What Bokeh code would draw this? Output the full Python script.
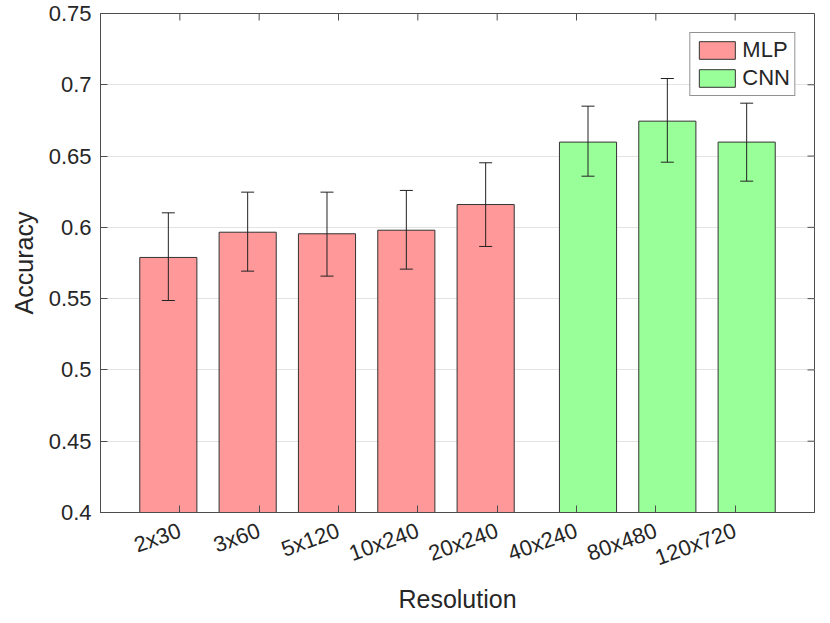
import math
from bokeh.plotting import figure
from bokeh.models import (ColumnDataSource, Whisker, TeeHead, FixedTicker, Range1d,
                          Legend, LegendItem)
from bokeh.embed import file_html
from bokeh.resources import INLINE

# ---------------- data ----------------
labels = ["2x30", "3x60", "5x120", "10x240", "20x240", "40x240", "80x480", "120x720"]

mlp_acc = [0.5789, 0.5966, 0.5955, 0.5980, 0.6160]
mlp_upper = [0.6102, 0.6247, 0.6247, 0.6259, 0.6453]
mlp_lower = [0.5487, 0.5693, 0.5658, 0.5707, 0.5866]

cnn_acc = [0.6598, 0.6745, 0.6598]
cnn_upper = [0.6850, 0.7044, 0.6871]
cnn_lower = [0.6359, 0.6457, 0.6324]

y_ticks = [0.4, 0.45, 0.5, 0.55, 0.6, 0.65, 0.7, 0.75]
y_tick_labels = ["0.4", "0.45", "0.5", "0.55", "0.6", "0.65", "0.7", "0.75"]

# ---------------- style ----------------
FONT = "Liberation Sans"
TXT = "#262626"
AX = "#4d4d4d"
MLP_COLOR = "#ff9999"
CNN_COLOR = "#99ff99"

FRAME_W, FRAME_H = 714, 499
X_MAX = 9
n_mlp = len(mlp_acc)
tick_pos = list(range(1, len(labels) + 1))
group_offset = 0.145
bar_width = 0.72

mlp_x = [t - group_offset for t in tick_pos[:n_mlp]]
cnn_x = [t + group_offset for t in tick_pos[n_mlp:]]

mlp_src = ColumnDataSource(dict(x=mlp_x, top=mlp_acc, upper=mlp_upper, lower=mlp_lower))
cnn_src = ColumnDataSource(dict(x=cnn_x, top=cnn_acc, upper=cnn_upper, lower=cnn_lower))

p = figure(width=830, height=623,
           x_range=Range1d(0, X_MAX), y_range=Range1d(y_ticks[0], y_ticks[-1]),
           output_backend="svg", toolbar_location=None,
           min_border_left=100, min_border_top=13, min_border_right=16, min_border_bottom=111)
p.background_fill_color = "white"
p.border_fill_color = "white"
p.outline_line_color = AX

# grid
p.xgrid.grid_line_color = None
p.ygrid.ticker = FixedTicker(ticks=y_ticks)
p.ygrid.grid_line_color = "#e3e3e3"
p.ygrid.grid_line_width = 1

# bars
r_mlp = p.vbar(x="x", top="top", bottom=y_ticks[0], width=bar_width, source=mlp_src,
               fill_color=MLP_COLOR, line_color="#333333", line_width=1)
r_cnn = p.vbar(x="x", top="top", bottom=y_ticks[0], width=bar_width, source=cnn_src,
               fill_color=CNN_COLOR, line_color="#333333", line_width=1)

# error bars
for src in (mlp_src, cnn_src):
    w = Whisker(base="x", upper="upper", lower="lower", source=src, dimension="height",
                line_color="#222222", line_width=1,
                upper_head=TeeHead(size=13, line_color="#222222", line_width=1),
                lower_head=TeeHead(size=13, line_color="#222222", line_width=1))
    w.level = "overlay"
    p.add_layout(w)

# inward tick marks on top and right edges (box style)
y_span = y_ticks[-1] - y_ticks[0]
tick_len_y = y_span / FRAME_H * 7
tick_len_x = X_MAX / FRAME_W * 7
n = len(tick_pos)
p.segment(x0=tick_pos, x1=tick_pos, y0=[y_ticks[-1]] * n,
          y1=[y_ticks[-1] - tick_len_y] * n, line_color=AX, line_width=1)
m = len(y_ticks)
p.segment(x0=[X_MAX] * m, x1=[X_MAX - tick_len_x] * m, y0=y_ticks, y1=y_ticks,
          line_color=AX, line_width=1)

# bottom axis
xa = p.xaxis[0]
xa.ticker = FixedTicker(ticks=tick_pos)
xa.major_label_overrides = {t: lab for t, lab in zip(tick_pos, labels)}
xa.major_label_orientation = math.radians(20)
xa.major_label_text_font = FONT
xa.major_label_text_font_size = "22px"
xa.major_label_text_color = TXT
xa.major_label_standoff = 17
xa.major_tick_in = 7
xa.major_tick_out = 0
xa.major_tick_line_color = AX
xa.minor_tick_line_color = None
xa.axis_line_color = AX
xa.axis_label = "Resolution"
xa.axis_label_text_font = FONT
xa.axis_label_text_font_size = "25px"
xa.axis_label_text_font_style = "normal"
xa.axis_label_text_color = TXT
xa.axis_label_standoff = 0

# left axis
ya = p.yaxis[0]
ya.ticker = FixedTicker(ticks=y_ticks)
ya.major_label_overrides = {t: l for t, l in zip(y_ticks, y_tick_labels)}
ya.major_label_text_font = FONT
ya.major_label_text_font_size = "22px"
ya.major_label_text_color = TXT
ya.major_label_standoff = 9
ya.major_tick_in = 7
ya.major_tick_out = 0
ya.minor_tick_line_color = None
ya.major_tick_line_color = AX
ya.axis_line_color = AX
ya.axis_label = "Accuracy"
ya.axis_label_text_font = FONT
ya.axis_label_text_font_size = "25px"
ya.axis_label_text_font_style = "normal"
ya.axis_label_text_color = TXT
ya.axis_label_standoff = 8

# legend
legend = Legend(items=[LegendItem(label="MLP", renderers=[r_mlp]),
                       LegendItem(label="CNN", renderers=[r_cnn])],
                location="top_right", margin=19, padding=4, spacing=2,
                glyph_width=45, glyph_height=22, label_standoff=3,
                label_text_font=FONT, label_text_font_size="22px", label_text_color=TXT,
                border_line_color="#262626", border_line_width=1,
                background_fill_color="white", background_fill_alpha=1)
p.add_layout(legend)

open("out.html", "w").write(file_html(p, INLINE))
